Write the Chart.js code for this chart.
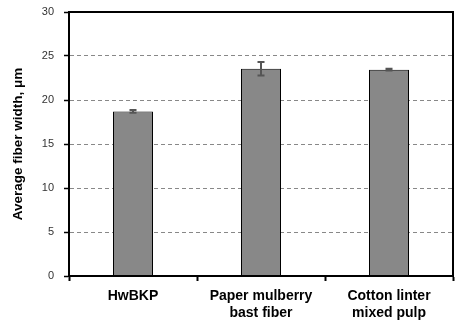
<!DOCTYPE html>
<html>
<head>
    <meta charset="utf-8">
    <title>Average fiber width</title>
    <script src="https://cdn.jsdelivr.net/npm/chart.js"></script>
    <style>
        html, body { margin: 0; padding: 0; background: white; }
        .wrap { width: 459px; height: 324px; }
    </style>
</head>
<body>
    <div class="wrap"><canvas id="widthChart"></canvas></div>

    <script>
        // data
        const categories = [['HwBKP'], ['Paper mulberry', 'bast fiber'], ['Cotton linter', 'mixed pulp']];
        const widths = [18.7, 23.55, 23.45];
        const errors = [0.15, 0.78, 0.1];
        const yTicks = [0, 5, 10, 15, 20, 25, 30];

        // error bars + frame, drawn from the scales
        const extras = {
            id: 'extras',
            afterDatasetsDraw(chart) {
                const ctx = chart.ctx;
                const x = chart.scales.x, y = chart.scales.y;
                ctx.save();
                ctx.strokeStyle = '#555555';
                ctx.lineWidth = 2;
                widths.forEach((v, i) => {
                    const px = x.getPixelForValue(i);
                    const top = y.getPixelForValue(v + errors[i]);
                    const bot = y.getPixelForValue(v - errors[i]);
                    ctx.beginPath();
                    ctx.moveTo(px, top); ctx.lineTo(px, bot);
                    ctx.moveTo(px - 3.5, top); ctx.lineTo(px + 3.5, top);
                    ctx.moveTo(px - 3.5, bot); ctx.lineTo(px + 3.5, bot);
                    ctx.stroke();
                });
                const a = chart.chartArea;
                ctx.strokeStyle = '#000';
                ctx.lineWidth = 2;
                ctx.strokeRect(a.left, a.top, a.right - a.left, a.bottom - a.top);
                ctx.restore();
            }
        };

        new Chart(document.getElementById('widthChart'), {
            type: 'bar',
            data: {
                labels: categories,
                datasets: [{
                    data: widths,
                    backgroundColor: '#888888',
                    borderColor: '#000000',
                    borderWidth: 1,
                    barPercentage: 0.625,
                    categoryPercentage: 0.5
                }]
            },
            options: {
                responsive: true,
                maintainAspectRatio: false,
                animation: false,
                layout: { padding: { top: 12, right: 6, left: 0, bottom: 0 } },
                plugins: { legend: { display: false }, tooltip: { enabled: false } },
                scales: {
                    x: {
                        grid: { offset: true, drawOnChartArea: false, tickLength: 5, tickColor: '#000', tickWidth: 2 },
                        border: { color: '#000', width: 2 },
                        ticks: { color: '#000', padding: 7, font: { family: 'Arial', size: 14, weight: 'bold', lineHeight: 1.2 } },
                        afterFit(s) { s.height = 48; s.paddingLeft = 0; s.paddingRight = 0; }
                    },
                    y: {
                        min: 0, max: 30,
                        afterBuildTicks(s) { s.ticks = yTicks.map(v => ({ value: v })); },
                        grid: { color: '#888888', tickLength: 5, tickColor: '#000', tickWidth: 1.5, tickBorderDash: [] },
                        border: { color: '#000', width: 2, dash: [4, 3] },
                        ticks: { color: '#333', padding: 10, font: { family: 'Arial', size: 11 } },
                        title: { display: true, text: 'Average fiber width, μm', color: '#000', padding: { top: 10, bottom: 0 }, font: { family: 'Arial', size: 13.5, weight: 'bold' } },
                        afterFit(s) { s.width = 69; s.paddingTop = 0; s.paddingBottom = 0; }
                    }
                }
            },
            plugins: [extras]
        });
    </script>
</body>
</html>
